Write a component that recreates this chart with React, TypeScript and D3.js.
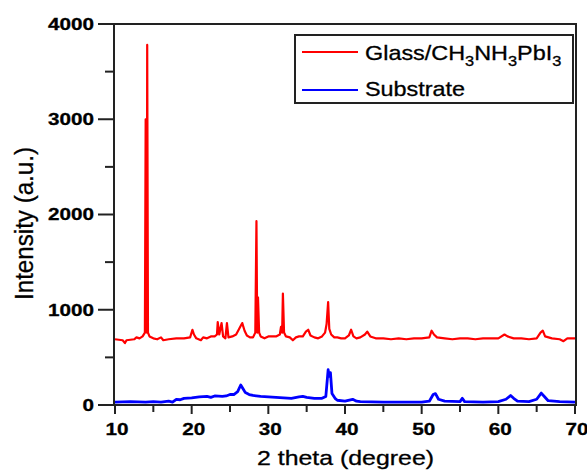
import React from 'react';
import * as d3 from 'd3';

// [2theta, intensity]
const glassSeries: [number, number][] = [
  [10.0, 690], [11.0, 680], [11.3, 650], [11.5, 680], [12.5, 690], [12.8, 710], [13.2, 700],
  [13.6, 720], [13.9, 760], [14.0, 3000], [14.1, 3000], [14.15, 760], [14.2, 3780], [14.3, 760],
  [14.5, 720], [15.0, 700], [15.5, 690], [16.0, 710], [16.3, 680], [17.0, 690], [18.0, 700],
  [19.0, 700], [19.8, 710], [20.1, 790], [20.3, 740], [20.6, 700], [21.2, 680], [21.5, 710],
  [22.0, 700], [22.5, 720], [23.0, 720], [23.3, 740], [23.4, 870], [23.6, 740], [23.9, 860],
  [24.1, 720], [24.4, 700], [24.6, 860], [24.8, 710], [25.3, 720], [25.8, 740], [26.2, 800],
  [26.6, 860], [26.9, 780], [27.2, 730], [27.6, 710], [28.0, 710], [28.3, 760], [28.45, 1930],
  [28.55, 760], [28.65, 1130], [28.8, 760], [29.0, 720], [29.5, 700], [30.0, 720], [30.5, 720],
  [31.0, 720], [31.5, 740], [31.65, 820], [31.8, 760], [31.9, 1170], [32.05, 760], [32.3, 720],
  [32.8, 710], [33.2, 680], [33.6, 710], [34.0, 720], [34.5, 720], [34.9, 770], [35.2, 790],
  [35.5, 730], [36.0, 710], [36.5, 700], [37.0, 720], [37.4, 760], [37.6, 850], [37.8, 1080],
  [37.95, 800], [38.2, 740], [38.6, 710], [39.0, 710], [39.5, 700], [40.0, 700], [40.5, 730],
  [40.8, 790], [41.1, 720], [41.5, 700], [42.0, 710], [42.6, 740], [42.9, 770], [43.3, 720],
  [44, 700], [45, 700], [46, 690], [47, 700], [48, 690], [49, 700], [50, 700], [51, 710],
  [51.3, 780], [51.6, 740], [52, 710], [53, 700], [54, 690], [55, 700], [56, 700], [57, 690],
  [58, 700], [59, 700], [60, 700], [60.8, 740], [61.2, 720], [62, 700], [63, 700], [64, 690],
  [65, 700], [65.5, 760], [65.8, 780], [66.1, 720], [67, 700], [68, 690], [68.5, 670], [69, 700],
  [70, 700],
];

const substrateSeries: [number, number][] = [
  [10, 30], [12, 35], [14, 30], [15, 35], [16, 30], [17, 40], [17.5, 30], [18, 60], [18.5, 55],
  [19, 70], [20, 75], [20.5, 80], [21, 85], [22, 90], [22.5, 80], [23, 95], [24, 90], [24.5, 95],
  [25, 110], [25.5, 110], [26, 140], [26.4, 210], [26.7, 170], [27, 130], [27.5, 110], [28, 100],
  [29, 90], [30, 85], [31, 80], [32, 75], [33, 70], [34, 85], [34.5, 90], [35, 80], [36, 70],
  [37, 70], [37.5, 90], [37.8, 370], [37.95, 300], [38.1, 340], [38.3, 120], [38.7, 70], [39, 50],
  [40, 40], [41, 60], [41.5, 40], [42, 35], [45, 30], [48, 30], [50, 30], [51, 40], [51.5, 110],
  [51.8, 120], [52.2, 60], [53, 40], [55, 35], [55.3, 70], [55.6, 35], [58, 30], [60, 35],
  [61, 60], [61.6, 100], [62, 70], [62.5, 40], [64, 35], [65, 60], [65.6, 125], [66, 90],
  [66.5, 45], [68, 35], [70, 30],
];

const xTickValues = [10, 20, 30, 40, 50, 60, 70];
const yTickValues = [0, 1000, 2000, 3000, 4000];

const font = '"Liberation Sans", Arial, sans-serif';
// the source picture is stretched sideways, so text is widened to match
const digitW = 11.5;

export default function App() {
  const x = d3.scaleLinear().domain([10, 70]).range([115, 575]);
  const y = d3.scaleLinear().domain([0, 4000]).range([405, 24]);

  const line = d3.line<[number, number]>()
    .x(d => x(d[0]))
    .y(d => y(d[1]));

  const xMinor = d3.range(10, 71, 5);
  const yMinor = d3.range(0, 4001, 500);

  return (
    <svg width={587} height={470} style={{ position: 'absolute', left: 0, top: 0, background: '#fff' }}>
      {/* data */}
      <path d={line(glassSeries) ?? ''} fill="none" stroke="#ff0000" strokeWidth={2.2} strokeLinejoin="round" />
      <path d={line(substrateSeries) ?? ''} fill="none" stroke="#0000ff" strokeWidth={2.8} strokeLinejoin="round" />

      {/* frame */}
      <rect x={x(10) - 1} y={y(4000)} width={x(70) - x(10) + 2} height={y(0) - y(4000)}
        fill="none" stroke="#222" strokeWidth={2} />

      {/* y ticks */}
      {yMinor.map(v => (
        <line key={'ym' + v} x1={v % 1000 === 0 ? 98 : 105} x2={114} y1={y(v)} y2={y(v)} stroke="#222" strokeWidth={2} />
      ))}
      {yTickValues.map(v => {
        const w = String(v).length * digitW;
        return (
          <text key={'yt' + v} x={94 - w} y={y(v)} dy="0.36em" textLength={w} lengthAdjust="spacingAndGlyphs"
            fontFamily={font} fontWeight="bold" fontSize={16.5} stroke="#000" strokeWidth={0.3}>{v}</text>
        );
      })}

      {/* x ticks */}
      {xMinor.map(v => (
        <line key={'xm' + v} x1={x(v)} x2={x(v)} y1={405} y2={v % 10 === 0 ? 414 : 412} stroke="#222" strokeWidth={2} />
      ))}
      {xTickValues.map(v => {
        const w = String(v).length * digitW;
        return (
          <text key={'xt' + v} x={x(v) + 2 - w / 2} y={435} textLength={w} lengthAdjust="spacingAndGlyphs"
            fontFamily={font} fontWeight="bold" fontSize={16.5} stroke="#000" strokeWidth={0.3}>{v}</text>
        );
      })}

      {/* axis titles */}
      <text x={257} y={465} textLength={177} lengthAdjust="spacingAndGlyphs"
        fontFamily={font} fontSize={21} stroke="#000" strokeWidth={0.3}>2 theta (degree)</text>
      <text transform="translate(33,300) rotate(-90)" textLength={153} lengthAdjust="spacingAndGlyphs"
        fontFamily={font} fontSize={25} stroke="#000" strokeWidth={0.3}>Intensity (a.u.)</text>

      {/* legend */}
      <rect x={295} y={35} width={278} height={68} fill="#fff" stroke="#222" strokeWidth={2} />
      <line x1={302} x2={358} y1={52} y2={52} stroke="#ff0000" strokeWidth={2} />
      <line x1={302} x2={358} y1={90} y2={90} stroke="#0000ff" strokeWidth={2} />
      <g transform="translate(365,0) scale(1.17,1)">
        <text x={0} y={60} fontFamily={font} fontSize={20} stroke="#000" strokeWidth={0.3}>
          Glass/CH<tspan fontSize={14} dy={6}>3</tspan><tspan dy={-6}>NH</tspan><tspan fontSize={14} dy={6}>3</tspan><tspan dy={-6}>PbI</tspan><tspan fontSize={14} dy={6}>3</tspan>
        </text>
        <text x={0} y={96} fontFamily={font} fontSize={20} stroke="#000" strokeWidth={0.3}>Substrate</text>
      </g>
    </svg>
  );
}
